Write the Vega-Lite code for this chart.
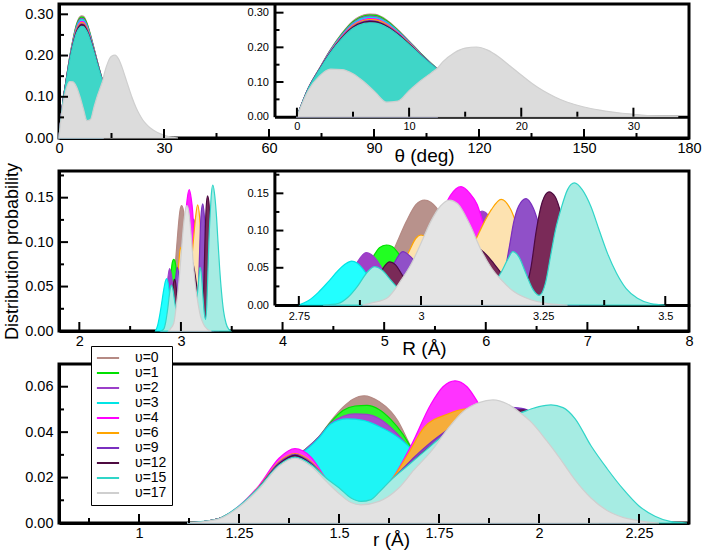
{
"$schema": "https://vega.github.io/schema/vega-lite/v6.json",
"padding": {"left": 1, "top": 2, "right": 5, "bottom": 2},
"bounds": "flush",
"spacing": 33,
"config": {
  "font": "Liberation Sans",
  "view": {"stroke": "black", "strokeWidth": 3},
  "axis": {"ticks": false, "tickSize": 0, "domainColor": "black", "domainWidth": 3, "labelColor": "black", "labelFont": "Liberation Sans", "labelFontSize": 14.5, "labelFlush": false, "labelOverlap": false, "grid": false, "zindex": 1, "titleFont": "Liberation Sans", "titleColor": "black", "titleFontWeight": "normal"}
},
"resolve": {"scale": {"fill": "independent", "stroke": "independent", "strokeDash": "independent"}},
"datasets": {
"p1": [
{"v":0,"x":0,"y":0},{"v":0,"x":1,"y":0.081},{"v":0,"x":2,"y":0.139},{"v":0,"x":3,"y":0.194},{"v":0,"x":4,"y":0.240},{"v":0,"x":5,"y":0.276},{"v":0,"x":6,"y":0.294},{"v":0,"x":6.5,"y":0.296},{"v":0,"x":7,"y":0.295},{"v":0,"x":8,"y":0.279},{"v":0,"x":9,"y":0.251},{"v":0,"x":10,"y":0.218},{"v":0,"x":11,"y":0.184},{"v":0,"x":12,"y":0.153},{"v":0,"x":12.5,"y":0.139},
{"v":1,"x":0,"y":0},{"v":1,"x":1,"y":0.081},{"v":1,"x":2,"y":0.138},{"v":1,"x":3,"y":0.193},{"v":1,"x":4,"y":0.238},{"v":1,"x":5,"y":0.274},{"v":1,"x":6,"y":0.291},{"v":1,"x":6.5,"y":0.293},{"v":1,"x":7,"y":0.292},{"v":1,"x":8,"y":0.277},{"v":1,"x":9,"y":0.249},{"v":1,"x":10,"y":0.217},{"v":1,"x":11,"y":0.184},{"v":1,"x":12,"y":0.153},{"v":1,"x":12.5,"y":0.139},
{"v":2,"x":0,"y":0},{"v":2,"x":1,"y":0.081},{"v":2,"x":2,"y":0.138},{"v":2,"x":3,"y":0.192},{"v":2,"x":4,"y":0.236},{"v":2,"x":5,"y":0.271},{"v":2,"x":6,"y":0.288},{"v":2,"x":6.5,"y":0.290},{"v":2,"x":7,"y":0.289},{"v":2,"x":8,"y":0.274},{"v":2,"x":9,"y":0.247},{"v":2,"x":10,"y":0.216},{"v":2,"x":11,"y":0.183},{"v":2,"x":12,"y":0.152},{"v":2,"x":12.5,"y":0.139},
{"v":3,"x":0,"y":0},{"v":3,"x":1,"y":0.081},{"v":3,"x":2,"y":0.137},{"v":3,"x":3,"y":0.191},{"v":3,"x":4,"y":0.235},{"v":3,"x":5,"y":0.269},{"v":3,"x":6,"y":0.285},{"v":3,"x":6.5,"y":0.287},{"v":3,"x":7,"y":0.286},{"v":3,"x":8,"y":0.272},{"v":3,"x":9,"y":0.246},{"v":3,"x":10,"y":0.214},{"v":3,"x":11,"y":0.182},{"v":3,"x":12,"y":0.152},{"v":3,"x":12.5,"y":0.138},
{"v":4,"x":0,"y":0},{"v":4,"x":1,"y":0.081},{"v":4,"x":2,"y":0.137},{"v":4,"x":3,"y":0.189},{"v":4,"x":4,"y":0.232},{"v":4,"x":5,"y":0.265},{"v":4,"x":6,"y":0.281},{"v":4,"x":6.5,"y":0.283},{"v":4,"x":7,"y":0.282},{"v":4,"x":8,"y":0.268},{"v":4,"x":9,"y":0.243},{"v":4,"x":10,"y":0.213},{"v":4,"x":11,"y":0.181},{"v":4,"x":12,"y":0.151},{"v":4,"x":12.5,"y":0.138},
{"v":6,"x":0,"y":0},{"v":6,"x":1,"y":0.080},{"v":6,"x":2,"y":0.136},{"v":6,"x":3,"y":0.188},{"v":6,"x":4,"y":0.230},{"v":6,"x":5,"y":0.263},{"v":6,"x":6,"y":0.278},{"v":6,"x":6.5,"y":0.280},{"v":6,"x":7,"y":0.279},{"v":6,"x":8,"y":0.266},{"v":6,"x":9,"y":0.241},{"v":6,"x":10,"y":0.212},{"v":6,"x":11,"y":0.180},{"v":6,"x":12,"y":0.151},{"v":6,"x":12.5,"y":0.138},
{"v":9,"x":0,"y":0},{"v":9,"x":1,"y":0.080},{"v":9,"x":2,"y":0.136},{"v":9,"x":3,"y":0.187},{"v":9,"x":4,"y":0.229},{"v":9,"x":5,"y":0.260},{"v":9,"x":6,"y":0.275},{"v":9,"x":6.5,"y":0.277},{"v":9,"x":7,"y":0.276},{"v":9,"x":8,"y":0.263},{"v":9,"x":9,"y":0.240},{"v":9,"x":10,"y":0.210},{"v":9,"x":11,"y":0.180},{"v":9,"x":12,"y":0.151},{"v":9,"x":12.5,"y":0.137},
{"v":12,"x":0,"y":0},{"v":12,"x":1,"y":0.080},{"v":12,"x":2,"y":0.136},{"v":12,"x":3,"y":0.186},{"v":12,"x":4,"y":0.227},{"v":12,"x":5,"y":0.258},{"v":12,"x":6,"y":0.273},{"v":12,"x":6.5,"y":0.275},{"v":12,"x":7,"y":0.274},{"v":12,"x":8,"y":0.261},{"v":12,"x":9,"y":0.238},{"v":12,"x":10,"y":0.210},{"v":12,"x":11,"y":0.179},{"v":12,"x":12,"y":0.150},{"v":12,"x":12.5,"y":0.137},
{"v":15,"x":0,"y":0},{"v":15,"x":1,"y":0.080},{"v":15,"x":2,"y":0.135},{"v":15,"x":3,"y":0.185},{"v":15,"x":4,"y":0.225},{"v":15,"x":5,"y":0.255},{"v":15,"x":6,"y":0.269},{"v":15,"x":6.5,"y":0.271},{"v":15,"x":7,"y":0.270},{"v":15,"x":8,"y":0.258},{"v":15,"x":9,"y":0.236},{"v":15,"x":10,"y":0.208},{"v":15,"x":11,"y":0.178},{"v":15,"x":12,"y":0.150},{"v":15,"x":12.5,"y":0.137},
{"v":17,"x":0,"y":0},{"v":17,"x":1,"y":0.075},{"v":17,"x":2,"y":0.117},{"v":17,"x":3,"y":0.137},{"v":17,"x":4,"y":0.136},{"v":17,"x":5,"y":0.124},{"v":17,"x":6,"y":0.100},{"v":17,"x":7,"y":0.070},{"v":17,"x":8,"y":0.042},{"v":17,"x":9,"y":0.045},{"v":17,"x":10,"y":0.075},{"v":17,"x":11,"y":0.103},{"v":17,"x":12,"y":0.127},{"v":17,"x":12.5,"y":0.139},{"v":17,"x":13,"y":0.158},{"v":17,"x":14,"y":0.184},{"v":17,"x":15,"y":0.198},{"v":17,"x":16,"y":0.201},{"v":17,"x":17,"y":0.192},{"v":17,"x":18,"y":0.172},{"v":17,"x":19,"y":0.146},{"v":17,"x":20,"y":0.120},{"v":17,"x":21,"y":0.095},{"v":17,"x":22,"y":0.074},{"v":17,"x":23,"y":0.057},{"v":17,"x":24,"y":0.043},{"v":17,"x":25,"y":0.033},{"v":17,"x":26,"y":0.025},{"v":17,"x":27,"y":0.019},{"v":17,"x":28,"y":0.014},{"v":17,"x":29,"y":0.010},{"v":17,"x":30,"y":0.007},{"v":17,"x":31,"y":0.004},{"v":17,"x":32,"y":0.002},{"v":17,"x":33,"y":0.001},{"v":17,"x":34,"y":0}
],
"p2": [
{"v":0,"x":2.8,"y":0},{"v":0,"x":2.85,"y":0.0025},{"v":0,"x":2.88,"y":0.0105},{"v":0,"x":2.91,"y":0.03},{"v":0,"x":2.93,"y":0.053},{"v":0,"x":2.95,"y":0.0826},{"v":0,"x":2.97,"y":0.112},{"v":0,"x":2.99,"y":0.135},{"v":0,"x":3.007,"y":0.141},{"v":0,"x":3.02,"y":0.138},{"v":0,"x":3.04,"y":0.122},{"v":0,"x":3.06,"y":0.089},{"v":0,"x":3.09,"y":0.05},{"v":0,"x":3.12,"y":0.022},{"v":0,"x":3.15,"y":0.008},{"v":0,"x":3.18,"y":0.002},{"v":0,"x":3.2,"y":0},
{"v":1,"x":2.84,"y":0},{"v":1,"x":2.86,"y":0.01},{"v":1,"x":2.88,"y":0.035},{"v":1,"x":2.895,"y":0.055},{"v":1,"x":2.905,"y":0.068},{"v":1,"x":2.915,"y":0.077},{"v":1,"x":2.929,"y":0.0806},{"v":1,"x":2.94,"y":0.079},{"v":1,"x":2.953,"y":0.07},{"v":1,"x":2.97,"y":0.05},{"v":1,"x":2.99,"y":0.03},{"v":1,"x":3.02,"y":0.035},{"v":1,"x":3.06,"y":0.07},{"v":1,"x":3.1,"y":0.09},{"v":1,"x":3.14,"y":0.07},{"v":1,"x":3.18,"y":0.03},{"v":1,"x":3.22,"y":0.005},{"v":1,"x":3.25,"y":0},
{"v":2,"x":2.8,"y":0},{"v":2,"x":2.83,"y":0.01},{"v":2,"x":2.85,"y":0.03},{"v":2,"x":2.87,"y":0.058},{"v":2,"x":2.888,"y":0.0703},{"v":2,"x":2.905,"y":0.064},{"v":2,"x":2.925,"y":0.045},{"v":2,"x":2.95,"y":0.03},{"v":2,"x":2.98,"y":0.035},{"v":2,"x":3.02,"y":0.06},{"v":2,"x":3.06,"y":0.095},{"v":2,"x":3.09,"y":0.115},{"v":2,"x":3.11,"y":0.12},{"v":2,"x":3.125,"y":0.126},{"v":2,"x":3.14,"y":0.118},{"v":2,"x":3.155,"y":0.095},{"v":2,"x":3.175,"y":0.055},{"v":2,"x":3.2,"y":0.02},{"v":2,"x":3.23,"y":0},
{"v":3,"x":2.75,"y":0},{"v":3,"x":2.77,"y":0.006},{"v":3,"x":2.79,"y":0.017},{"v":3,"x":2.81,"y":0.031},{"v":3,"x":2.83,"y":0.046},{"v":3,"x":2.845,"y":0.055},{"v":3,"x":2.858,"y":0.059},{"v":3,"x":2.87,"y":0.056},{"v":3,"x":2.885,"y":0.045},{"v":3,"x":2.9,"y":0.03},{"v":3,"x":2.92,"y":0.015},{"v":3,"x":2.94,"y":0.006},{"v":3,"x":2.97,"y":0},
{"v":4,"x":2.92,"y":0},{"v":4,"x":2.95,"y":0.009},{"v":4,"x":2.98,"y":0.029},{"v":4,"x":3.0,"y":0.052},{"v":4,"x":3.02,"y":0.084},{"v":4,"x":3.04,"y":0.119},{"v":4,"x":3.06,"y":0.147},{"v":4,"x":3.082,"y":0.159},{"v":4,"x":3.1,"y":0.15},{"v":4,"x":3.115,"y":0.135},{"v":4,"x":3.13,"y":0.104},{"v":4,"x":3.145,"y":0.076},{"v":4,"x":3.17,"y":0.044},{"v":4,"x":3.2,"y":0.016},{"v":4,"x":3.23,"y":0.004},{"v":4,"x":3.26,"y":0},
{"v":6,"x":2.9,"y":0},{"v":6,"x":2.93,"y":0.01},{"v":6,"x":2.95,"y":0.03},{"v":6,"x":2.96,"y":0.05},{"v":6,"x":2.977,"y":0.074},{"v":6,"x":2.99,"y":0.09},{"v":6,"x":3.0,"y":0.094},{"v":6,"x":3.012,"y":0.09},{"v":6,"x":3.03,"y":0.07},{"v":6,"x":3.05,"y":0.05},{"v":6,"x":3.07,"y":0.045},{"v":6,"x":3.09,"y":0.06},{"v":6,"x":3.11,"y":0.085},{"v":6,"x":3.13,"y":0.112},{"v":6,"x":3.144,"y":0.128},{"v":6,"x":3.164,"y":0.142},{"v":6,"x":3.184,"y":0.128},{"v":6,"x":3.2,"y":0.1},{"v":6,"x":3.22,"y":0.06},{"v":6,"x":3.24,"y":0.03},{"v":6,"x":3.27,"y":0.008},{"v":6,"x":3.3,"y":0},
{"v":9,"x":2.88,"y":0},{"v":9,"x":2.9,"y":0.008},{"v":9,"x":2.92,"y":0.025},{"v":9,"x":2.94,"y":0.05},{"v":9,"x":2.963,"y":0.0716},{"v":9,"x":2.977,"y":0.066},{"v":9,"x":2.99,"y":0.057},{"v":9,"x":3.01,"y":0.045},{"v":9,"x":3.04,"y":0.035},{"v":9,"x":3.08,"y":0.03},{"v":9,"x":3.12,"y":0.035},{"v":9,"x":3.145,"y":0.035},{"v":9,"x":3.16,"y":0.035},{"v":9,"x":3.17,"y":0.042},{"v":9,"x":3.18,"y":0.075},{"v":9,"x":3.19,"y":0.112},{"v":9,"x":3.2,"y":0.133},{"v":9,"x":3.215,"y":0.143},{"v":9,"x":3.23,"y":0.13},{"v":9,"x":3.245,"y":0.1},{"v":9,"x":3.26,"y":0.065},{"v":9,"x":3.28,"y":0.03},{"v":9,"x":3.3,"y":0.01},{"v":9,"x":3.32,"y":0},
{"v":12,"x":2.88,"y":0},{"v":12,"x":2.9,"y":0.015},{"v":12,"x":2.915,"y":0.04},{"v":12,"x":2.925,"y":0.052},{"v":12,"x":2.936,"y":0.058},{"v":12,"x":2.948,"y":0.054},{"v":12,"x":2.96,"y":0.042},{"v":12,"x":2.975,"y":0.028},{"v":12,"x":2.99,"y":0.02},{"v":12,"x":3.0,"y":0.02},{"v":12,"x":3.04,"y":0.045},{"v":12,"x":3.08,"y":0.075},{"v":12,"x":3.11,"y":0.078},{"v":12,"x":3.13,"y":0.07},{"v":12,"x":3.15,"y":0.055},{"v":12,"x":3.165,"y":0.042},{"v":12,"x":3.18,"y":0.025},{"v":12,"x":3.2,"y":0.012},{"v":12,"x":3.212,"y":0.02},{"v":12,"x":3.225,"y":0.05},{"v":12,"x":3.236,"y":0.1},{"v":12,"x":3.248,"y":0.138},{"v":12,"x":3.262,"y":0.152},{"v":12,"x":3.275,"y":0.145},{"v":12,"x":3.29,"y":0.115},{"v":12,"x":3.3,"y":0.09},{"v":12,"x":3.32,"y":0.045},{"v":12,"x":3.34,"y":0.015},{"v":12,"x":3.37,"y":0},
{"v":15,"x":2.8,"y":0},{"v":15,"x":2.83,"y":0.002},{"v":15,"x":2.85,"y":0.01},{"v":15,"x":2.87,"y":0.025},{"v":15,"x":2.89,"y":0.044},{"v":15,"x":2.905,"y":0.0515},{"v":15,"x":2.92,"y":0.047},{"v":15,"x":2.94,"y":0.032},{"v":15,"x":2.96,"y":0.018},{"v":15,"x":2.99,"y":0.008},{"v":15,"x":3.03,"y":0.005},{"v":15,"x":3.08,"y":0.008},{"v":15,"x":3.12,"y":0.015},{"v":15,"x":3.15,"y":0.03},{"v":15,"x":3.165,"y":0.045},{"v":15,"x":3.178,"y":0.062},{"v":15,"x":3.188,"y":0.0716},{"v":15,"x":3.2,"y":0.065},{"v":15,"x":3.215,"y":0.042},{"v":15,"x":3.23,"y":0.02},{"v":15,"x":3.242,"y":0.013},{"v":15,"x":3.255,"y":0.03},{"v":15,"x":3.265,"y":0.065},{"v":15,"x":3.275,"y":0.1},{"v":15,"x":3.287,"y":0.13},{"v":15,"x":3.3,"y":0.155},{"v":15,"x":3.314,"y":0.164},{"v":15,"x":3.33,"y":0.155},{"v":15,"x":3.348,"y":0.132},{"v":15,"x":3.365,"y":0.1},{"v":15,"x":3.382,"y":0.069},{"v":15,"x":3.4,"y":0.043},{"v":15,"x":3.42,"y":0.022},{"v":15,"x":3.443,"y":0.009},{"v":15,"x":3.47,"y":0.002},{"v":15,"x":3.5,"y":0},
{"v":17,"x":2.88,"y":0},{"v":17,"x":2.9,"y":0.003},{"v":17,"x":2.93,"y":0.009},{"v":17,"x":2.96,"y":0.034},{"v":17,"x":2.98,"y":0.055},{"v":17,"x":3.0,"y":0.083},{"v":17,"x":3.02,"y":0.112},{"v":17,"x":3.04,"y":0.133},{"v":17,"x":3.058,"y":0.141},{"v":17,"x":3.075,"y":0.136},{"v":17,"x":3.1,"y":0.108},{"v":17,"x":3.123,"y":0.074},{"v":17,"x":3.144,"y":0.05},{"v":17,"x":3.164,"y":0.034},{"v":17,"x":3.19,"y":0.018},{"v":17,"x":3.225,"y":0.007},{"v":17,"x":3.26,"y":0.002},{"v":17,"x":3.3,"y":0}
],
"p3": [
{"v":0,"x":1.12,"y":0},{"v":0,"x":1.2,"y":0.002},{"v":0,"x":1.25,"y":0.007},{"v":0,"x":1.3,"y":0.015},{"v":0,"x":1.35,"y":0.024},{"v":0,"x":1.39,"y":0.029},{"v":0,"x":1.42,"y":0.033},{"v":0,"x":1.45,"y":0.038},{"v":0,"x":1.48,"y":0.045},{"v":0,"x":1.51,"y":0.051},{"v":0,"x":1.535,"y":0.0545},{"v":0,"x":1.563,"y":0.056},{"v":0,"x":1.6,"y":0.0535},{"v":0,"x":1.63,"y":0.049},{"v":0,"x":1.647,"y":0.045},{"v":0,"x":1.672,"y":0.0363},{"v":0,"x":1.7,"y":0.026},{"v":0,"x":1.73,"y":0.016},{"v":0,"x":1.76,"y":0.008},{"v":0,"x":1.8,"y":0.002},{"v":0,"x":1.85,"y":0},
{"v":1,"x":1.12,"y":0},{"v":1,"x":1.2,"y":0.002},{"v":1,"x":1.25,"y":0.007},{"v":1,"x":1.3,"y":0.015},{"v":1,"x":1.35,"y":0.024},{"v":1,"x":1.39,"y":0.029},{"v":1,"x":1.42,"y":0.033},{"v":1,"x":1.45,"y":0.038},{"v":1,"x":1.48,"y":0.0445},{"v":1,"x":1.51,"y":0.0495},{"v":1,"x":1.54,"y":0.0515},{"v":1,"x":1.57,"y":0.0518},{"v":1,"x":1.6,"y":0.05},{"v":1,"x":1.63,"y":0.0455},{"v":1,"x":1.66,"y":0.039},{"v":1,"x":1.69,"y":0.03},{"v":1,"x":1.72,"y":0.02},{"v":1,"x":1.75,"y":0.011},{"v":1,"x":1.8,"y":0.003},{"v":1,"x":1.85,"y":0},
{"v":2,"x":1.12,"y":0},{"v":2,"x":1.2,"y":0.002},{"v":2,"x":1.25,"y":0.007},{"v":2,"x":1.3,"y":0.015},{"v":2,"x":1.35,"y":0.024},{"v":2,"x":1.39,"y":0.029},{"v":2,"x":1.42,"y":0.033},{"v":2,"x":1.45,"y":0.038},{"v":2,"x":1.48,"y":0.044},{"v":2,"x":1.51,"y":0.047},{"v":2,"x":1.54,"y":0.048},{"v":2,"x":1.57,"y":0.0478},{"v":2,"x":1.6,"y":0.046},{"v":2,"x":1.63,"y":0.042},{"v":2,"x":1.66,"y":0.0365},{"v":2,"x":1.69,"y":0.029},{"v":2,"x":1.72,"y":0.02},{"v":2,"x":1.75,"y":0.011},{"v":2,"x":1.8,"y":0.003},{"v":2,"x":1.85,"y":0},
{"v":3,"x":1.12,"y":0},{"v":3,"x":1.2,"y":0.002},{"v":3,"x":1.25,"y":0.007},{"v":3,"x":1.3,"y":0.015},{"v":3,"x":1.35,"y":0.024},{"v":3,"x":1.39,"y":0.029},{"v":3,"x":1.42,"y":0.0325},{"v":3,"x":1.45,"y":0.0375},{"v":3,"x":1.48,"y":0.0436},{"v":3,"x":1.52,"y":0.0458},{"v":3,"x":1.56,"y":0.0452},{"v":3,"x":1.6,"y":0.0425},{"v":3,"x":1.647,"y":0.0378},{"v":3,"x":1.676,"y":0.0334},{"v":3,"x":1.7,"y":0.028},{"v":3,"x":1.73,"y":0.02},{"v":3,"x":1.77,"y":0.01},{"v":3,"x":1.8,"y":0.005},{"v":3,"x":1.85,"y":0},
{"v":4,"x":1.12,"y":0},{"v":4,"x":1.2,"y":0.002},{"v":4,"x":1.25,"y":0.0075},{"v":4,"x":1.3,"y":0.0165},{"v":4,"x":1.35,"y":0.0285},{"v":4,"x":1.39,"y":0.0327},{"v":4,"x":1.43,"y":0.029},{"v":4,"x":1.47,"y":0.019},{"v":4,"x":1.5,"y":0.0145},{"v":4,"x":1.53,"y":0.01},{"v":4,"x":1.555,"y":0.0085},{"v":4,"x":1.58,"y":0.0095},{"v":4,"x":1.6,"y":0.013},{"v":4,"x":1.63,"y":0.0187},{"v":4,"x":1.68,"y":0.034},{"v":4,"x":1.73,"y":0.0524},{"v":4,"x":1.76,"y":0.06},{"v":4,"x":1.79,"y":0.0626},{"v":4,"x":1.82,"y":0.06},{"v":4,"x":1.847,"y":0.0531},{"v":4,"x":1.88,"y":0.042},{"v":4,"x":1.92,"y":0.028},{"v":4,"x":1.96,"y":0.016},{"v":4,"x":2.0,"y":0.008},{"v":4,"x":2.05,"y":0.002},{"v":4,"x":2.1,"y":0},
{"v":6,"x":1.12,"y":0},{"v":6,"x":1.2,"y":0.002},{"v":6,"x":1.25,"y":0.0073},{"v":6,"x":1.3,"y":0.016},{"v":6,"x":1.35,"y":0.027},{"v":6,"x":1.39,"y":0.0305},{"v":6,"x":1.43,"y":0.027},{"v":6,"x":1.47,"y":0.0192},{"v":6,"x":1.5,"y":0.0145},{"v":6,"x":1.53,"y":0.01},{"v":6,"x":1.555,"y":0.0086},{"v":6,"x":1.58,"y":0.0096},{"v":6,"x":1.6,"y":0.013},{"v":6,"x":1.63,"y":0.0187},{"v":6,"x":1.67,"y":0.0295},{"v":6,"x":1.713,"y":0.0421},{"v":6,"x":1.772,"y":0.048},{"v":6,"x":1.813,"y":0.0502},{"v":6,"x":1.85,"y":0.0505},{"v":6,"x":1.89,"y":0.047},{"v":6,"x":1.93,"y":0.038},{"v":6,"x":1.97,"y":0.026},{"v":6,"x":2.01,"y":0.015},{"v":6,"x":2.05,"y":0.007},{"v":6,"x":2.1,"y":0.002},{"v":6,"x":2.15,"y":0},
{"v":9,"x":1.12,"y":0},{"v":9,"x":1.2,"y":0.002},{"v":9,"x":1.25,"y":0.0072},{"v":9,"x":1.3,"y":0.0158},{"v":9,"x":1.35,"y":0.0265},{"v":9,"x":1.39,"y":0.0302},{"v":9,"x":1.43,"y":0.0265},{"v":9,"x":1.47,"y":0.019},{"v":9,"x":1.5,"y":0.0145},{"v":9,"x":1.53,"y":0.01},{"v":9,"x":1.555,"y":0.0086},{"v":9,"x":1.58,"y":0.0096},{"v":9,"x":1.6,"y":0.013},{"v":9,"x":1.63,"y":0.0187},{"v":9,"x":1.66,"y":0.024},{"v":9,"x":1.688,"y":0.029},{"v":9,"x":1.73,"y":0.0356},{"v":9,"x":1.763,"y":0.04},{"v":9,"x":1.8,"y":0.0445},{"v":9,"x":1.85,"y":0.049},{"v":9,"x":1.9,"y":0.0512},{"v":9,"x":1.94,"y":0.0508},{"v":9,"x":1.965,"y":0.0502},{"v":9,"x":1.99,"y":0.047},{"v":9,"x":2.02,"y":0.04},{"v":9,"x":2.05,"y":0.031},{"v":9,"x":2.09,"y":0.02},{"v":9,"x":2.13,"y":0.011},{"v":9,"x":2.18,"y":0.004},{"v":9,"x":2.23,"y":0.001},{"v":9,"x":2.27,"y":0},
{"v":12,"x":1.12,"y":0},{"v":12,"x":1.2,"y":0.002},{"v":12,"x":1.25,"y":0.0071},{"v":12,"x":1.3,"y":0.0156},{"v":12,"x":1.35,"y":0.026},{"v":12,"x":1.39,"y":0.0298},{"v":12,"x":1.43,"y":0.026},{"v":12,"x":1.47,"y":0.019},{"v":12,"x":1.5,"y":0.0145},{"v":12,"x":1.53,"y":0.01},{"v":12,"x":1.555,"y":0.0086},{"v":12,"x":1.58,"y":0.0096},{"v":12,"x":1.6,"y":0.013},{"v":12,"x":1.63,"y":0.0185},{"v":12,"x":1.66,"y":0.0225},{"v":12,"x":1.688,"y":0.0275},{"v":12,"x":1.73,"y":0.034},{"v":12,"x":1.77,"y":0.039},{"v":12,"x":1.82,"y":0.044},{"v":12,"x":1.87,"y":0.0475},{"v":12,"x":1.92,"y":0.0495},{"v":12,"x":1.96,"y":0.0498},{"v":12,"x":2.0,"y":0.047},{"v":12,"x":2.04,"y":0.04},{"v":12,"x":2.08,"y":0.029},{"v":12,"x":2.12,"y":0.018},{"v":12,"x":2.17,"y":0.008},{"v":12,"x":2.22,"y":0.002},{"v":12,"x":2.27,"y":0},
{"v":15,"x":1.12,"y":0},{"v":15,"x":1.15,"y":0.0005},{"v":15,"x":1.2,"y":0.002},{"v":15,"x":1.25,"y":0.0075},{"v":15,"x":1.3,"y":0.0157},{"v":15,"x":1.35,"y":0.0255},{"v":15,"x":1.39,"y":0.029},{"v":15,"x":1.43,"y":0.0258},{"v":15,"x":1.47,"y":0.0195},{"v":15,"x":1.5,"y":0.0155},{"v":15,"x":1.53,"y":0.011},{"v":15,"x":1.555,"y":0.0095},{"v":15,"x":1.58,"y":0.0103},{"v":15,"x":1.6,"y":0.0135},{"v":15,"x":1.63,"y":0.0189},{"v":15,"x":1.67,"y":0.025},{"v":15,"x":1.71,"y":0.031},{"v":15,"x":1.75,"y":0.037},{"v":15,"x":1.8,"y":0.043},{"v":15,"x":1.85,"y":0.0465},{"v":15,"x":1.9,"y":0.0482},{"v":15,"x":1.95,"y":0.0485},{"v":15,"x":1.98,"y":0.0502},{"v":15,"x":2.0,"y":0.0512},{"v":15,"x":2.03,"y":0.052},{"v":15,"x":2.06,"y":0.0508},{"v":15,"x":2.09,"y":0.046},{"v":15,"x":2.13,"y":0.034},{"v":15,"x":2.17,"y":0.024},{"v":15,"x":2.21,"y":0.015},{"v":15,"x":2.25,"y":0.0075},{"v":15,"x":2.29,"y":0.003},{"v":15,"x":2.33,"y":0.0006},{"v":15,"x":2.37,"y":0},
{"v":17,"x":1.12,"y":0},{"v":17,"x":1.15,"y":0.0004},{"v":17,"x":1.2,"y":0.0018},{"v":17,"x":1.25,"y":0.007},{"v":17,"x":1.3,"y":0.015},{"v":17,"x":1.35,"y":0.025},{"v":17,"x":1.39,"y":0.0285},{"v":17,"x":1.43,"y":0.025},{"v":17,"x":1.47,"y":0.018},{"v":17,"x":1.5,"y":0.013},{"v":17,"x":1.53,"y":0.009},{"v":17,"x":1.555,"y":0.008},{"v":17,"x":1.6,"y":0.0095},{"v":17,"x":1.65,"y":0.0155},{"v":17,"x":1.688,"y":0.0235},{"v":17,"x":1.73,"y":0.0315},{"v":17,"x":1.77,"y":0.041},{"v":17,"x":1.81,"y":0.049},{"v":17,"x":1.85,"y":0.053},{"v":17,"x":1.885,"y":0.0542},{"v":17,"x":1.92,"y":0.0525},{"v":17,"x":1.95,"y":0.049},{"v":17,"x":1.98,"y":0.0445},{"v":17,"x":2.02,"y":0.036},{"v":17,"x":2.05,"y":0.029},{"v":17,"x":2.09,"y":0.019},{"v":17,"x":2.13,"y":0.011},{"v":17,"x":2.17,"y":0.0055},{"v":17,"x":2.21,"y":0.0025},{"v":17,"x":2.25,"y":0.001},{"v":17,"x":2.3,"y":0}
]
},
"vconcat": [
{
 "width": 630, "height": 134,
 "resolve": {"scale": {"x": "independent", "y": "independent"}, "axis": {"x": "independent", "y": "independent"}},
 "layer": [
  {"data": {"name": "p1"}, "layer": [
   {
    "mark": {"type": "area", "interpolate": "monotone", "strokeWidth": 1.2},
    "encoding": {
     "x": {"field": "x", "type": "quantitative", "scale": {"domain": [0, 180], "nice": false, "zero": false},
       "axis": {"values": [0,30,60,90,120,150,180], "format": "d", "labelPadding": 3, "title": "θ (deg)", "titleX": 365, "titleY": 17, "titleBaseline": "middle", "titleAlign": "center", "titleFontSize": 19}},
     "y": {"field": "y", "type": "quantitative", "stack": null, "scale": {"domain": [0, 0.325], "nice": false},
       "axis": {"values": [0,0.1,0.2,0.3], "format": ".2f", "labelPadding": 6, "title": null}},
     "fill": {"field": "v", "type": "nominal", "scale": {"domain": [0,1,2,3,4,6,9,12,15,17], "range": ["#b8928c","#33ff33","#a040c8","#22f0f0","#ff33ff","#ffb340","#8a40c0","#6a1450","#3fd6c8","#dcdcdc"]}, "legend": null},
     "stroke": {"field": "v", "type": "nominal", "scale": {"domain": [0,1,2,3,4,6,9,12,15,17], "range": ["#b58a84","#00e000","#9b3fc9","#00e5e5","#ff00ff","#ffa500","#7a2fbf","#4d0a40","#30d5c8","#cfcfcf"]}, "legend": null},
     "strokeDash": {"field": "v", "type": "nominal", "scale": {"domain": [0,1,2,3,4,6,9,12,15,17], "range": [[3,1.5],[1,0],[3,1.5],[3,1.5],[3,1.5],[1,0],[1,0],[1,0],[1,0],[3,1.5]]}, "legend": null}
    }
   },
   {"data": {"values": [{"x":30},{"x":60},{"x":90},{"x":120},{"x":150}]}, "mark": {"type": "tick", "orient": "vertical", "size": 9, "thickness": 2, "yOffset": -4.5, "color": "black", "opacity": 1}, "encoding": {"x": {"field": "x", "type": "quantitative"}, "y": {"datum": 0, "type": "quantitative"}}},
   {"data": {"values": [{"x":15},{"x":45},{"x":75},{"x":105},{"x":135},{"x":165}]}, "mark": {"type": "tick", "orient": "vertical", "size": 5, "thickness": 2, "yOffset": -2.5, "color": "black", "opacity": 1}, "encoding": {"x": {"field": "x", "type": "quantitative"}, "y": {"datum": 0, "type": "quantitative"}}},
   {"data": {"values": [{"y":0.1},{"y":0.2},{"y":0.3}]}, "mark": {"type": "tick", "orient": "horizontal", "size": 9, "thickness": 2, "xOffset": 4.5, "color": "black", "opacity": 1}, "encoding": {"y": {"field": "y", "type": "quantitative"}, "x": {"datum": 0, "type": "quantitative"}}},
   {"data": {"values": [{"y":0.05},{"y":0.15},{"y":0.25}]}, "mark": {"type": "tick", "orient": "horizontal", "size": 5, "thickness": 2, "xOffset": 2.5, "color": "black", "opacity": 1}, "encoding": {"y": {"field": "y", "type": "quantitative"}, "x": {"datum": 0, "type": "quantitative"}}}
  ]},
  {"data": {"name": "p1"}, "layer": [
   {
    "mark": {"type": "area", "interpolate": "monotone", "strokeWidth": 1.2},
    "encoding": {
     "x": {"field": "x", "type": "quantitative", "scale": {"domain": [-2, 35], "range": [215.5, 630.5], "nice": false, "zero": false},
       "axis": {"orient": "bottom", "offset": -21.3, "values": [0,10,20,30], "format": "d", "labelPadding": 4, "labelFontSize": 11, "title": null}},
     "y": {"field": "y", "type": "quantitative", "stack": null, "scale": {"domain": [0, 0.325], "range": [112.7, 0], "nice": false},
       "axis": {"orient": "left", "offset": -215.5, "values": [0,0.1,0.2,0.3], "format": ".2f", "labelPadding": 6, "labelFontSize": 11, "title": null}},
     "fill": {"field": "v", "type": "nominal", "legend": null},
     "stroke": {"field": "v", "type": "nominal", "legend": null},
     "strokeDash": {"field": "v", "type": "nominal", "legend": null}
    }
   },
   {"data": {"values": [{"x":0},{"x":10},{"x":20},{"x":30}]}, "mark": {"type": "tick", "orient": "vertical", "size": 9, "thickness": 2, "yOffset": -4.5, "color": "black", "opacity": 1}, "encoding": {"x": {"field": "x", "type": "quantitative"}, "y": {"datum": 0, "type": "quantitative"}}},
   {"data": {"values": [{"x":5},{"x":15},{"x":25}]}, "mark": {"type": "tick", "orient": "vertical", "size": 5, "thickness": 2, "yOffset": -2.5, "color": "black", "opacity": 1}, "encoding": {"x": {"field": "x", "type": "quantitative"}, "y": {"datum": 0, "type": "quantitative"}}},
   {"data": {"values": [{"y":0.1},{"y":0.2},{"y":0.3}]}, "mark": {"type": "tick", "orient": "horizontal", "size": 9, "thickness": 2, "xOffset": 4.5, "color": "black", "opacity": 1}, "encoding": {"y": {"field": "y", "type": "quantitative"}, "x": {"datum": -2, "type": "quantitative"}}},
   {"data": {"values": [{"y":0.05},{"y":0.15},{"y":0.25}]}, "mark": {"type": "tick", "orient": "horizontal", "size": 5, "thickness": 2, "xOffset": 2.5, "color": "black", "opacity": 1}, "encoding": {"y": {"field": "y", "type": "quantitative"}, "x": {"datum": -2, "type": "quantitative"}}}
  ]}
 ]
},
{
 "width": 630, "height": 160,
 "resolve": {"scale": {"x": "independent", "y": "independent"}, "axis": {"x": "independent", "y": "independent"}},
 "layer": [
  {"data": {"name": "p2"}, "layer": [
   {
    "mark": {"type": "area", "interpolate": "monotone", "strokeWidth": 1.2},
    "encoding": {
     "x": {"field": "x", "type": "quantitative", "scale": {"domain": [1.8, 8], "nice": false, "zero": false},
       "axis": {"values": [2,3,4,5,6,7,8], "format": ".4~g", "labelPadding": 3, "title": "R (Å)", "titleX": 365, "titleY": 17, "titleBaseline": "middle", "titleAlign": "center", "titleFontSize": 19}},
     "y": {"field": "y", "type": "quantitative", "stack": null, "scale": {"domain": [0, 0.18], "nice": false},
       "axis": {"values": [0,0.05,0.1,0.15], "format": ".2f", "labelPadding": 6, "title": "Distribution probability", "titleFontSize": 18, "titleX": -42, "titleY": 80, "titleAngle": 270, "titleBaseline": "alphabetic", "titleAlign": "center"}},
     "fill": {"field": "v", "type": "nominal", "scale": {"domain": [0,1,2,3,4,6,9,12,15,17], "range": ["#b8928c","#22ff22","#a040c8","#22ffff","#ff22ff","#fde2b0","#9050c8","#7a2a58","#a6ece3","#e4e4e4"]}, "legend": null},
     "stroke": {"field": "v", "type": "nominal", "scale": {"domain": [0,1,2,3,4,6,9,12,15,17], "range": ["#b58a84","#00e000","#9b3fc9","#00e5e5","#ff00ff","#ffa500","#7a2fbf","#4d0a40","#30d5c8","#cfcfcf"]}, "legend": null},
     "strokeDash": {"field": "v", "type": "nominal", "scale": {"domain": [0,1,2,3,4,6,9,12,15,17], "range": [[3,1.5],[1,0],[3,1.5],[3,1.5],[3,1.5],[1,0],[1,0],[1,0],[1,0],[3,1.5]]}, "legend": null}
    }
   },
   {"data": {"values": [{"x":2},{"x":3},{"x":4},{"x":5},{"x":6},{"x":7}]}, "mark": {"type": "tick", "orient": "vertical", "size": 9, "thickness": 2, "yOffset": -4.5, "color": "black", "opacity": 1}, "encoding": {"x": {"field": "x", "type": "quantitative"}, "y": {"datum": 0, "type": "quantitative"}}},
   {"data": {"values": [{"x":2.5},{"x":3.5},{"x":4.5},{"x":5.5},{"x":6.5},{"x":7.5}]}, "mark": {"type": "tick", "orient": "vertical", "size": 5, "thickness": 2, "yOffset": -2.5, "color": "black", "opacity": 1}, "encoding": {"x": {"field": "x", "type": "quantitative"}, "y": {"datum": 0, "type": "quantitative"}}},
   {"data": {"values": [{"y":0.05},{"y":0.1},{"y":0.15}]}, "mark": {"type": "tick", "orient": "horizontal", "size": 9, "thickness": 2, "xOffset": 4.5, "color": "black", "opacity": 1}, "encoding": {"y": {"field": "y", "type": "quantitative"}, "x": {"datum": 1.8, "type": "quantitative"}}},
   {"data": {"values": [{"y":0.025},{"y":0.075},{"y":0.125},{"y":0.175}]}, "mark": {"type": "tick", "orient": "horizontal", "size": 5, "thickness": 2, "xOffset": 2.5, "color": "black", "opacity": 1}, "encoding": {"y": {"field": "y", "type": "quantitative"}, "x": {"datum": 1.8, "type": "quantitative"}}}
  ]},
  {"data": {"name": "p2"}, "layer": [
   {
    "mark": {"type": "area", "interpolate": "monotone", "strokeWidth": 1.2},
    "encoding": {
     "x": {"field": "x", "type": "quantitative", "scale": {"domain": [2.7, 3.55], "range": [215.4, 630.7], "nice": false, "zero": false},
       "axis": {"orient": "bottom", "offset": -26, "values": [2.75,3,3.25,3.5], "format": ".4~g", "labelPadding": 5, "labelFontSize": 11, "title": null}},
     "y": {"field": "y", "type": "quantitative", "stack": null, "scale": {"domain": [0, 0.18], "range": [134, 0], "nice": false},
       "axis": {"orient": "left", "offset": -215.4, "values": [0,0.05,0.1,0.15], "format": ".2f", "labelPadding": 6, "labelFontSize": 11, "title": null}},
     "fill": {"field": "v", "type": "nominal", "legend": null},
     "stroke": {"field": "v", "type": "nominal", "legend": null},
     "strokeDash": {"field": "v", "type": "nominal", "legend": null}
    }
   },
   {"data": {"values": [{"x":2.75},{"x":3},{"x":3.25},{"x":3.5}]}, "mark": {"type": "tick", "orient": "vertical", "size": 9, "thickness": 2, "yOffset": -4.5, "color": "black", "opacity": 1}, "encoding": {"x": {"field": "x", "type": "quantitative"}, "y": {"datum": 0, "type": "quantitative"}}},
   {"data": {"values": [{"x":2.875},{"x":3.125},{"x":3.375}]}, "mark": {"type": "tick", "orient": "vertical", "size": 5, "thickness": 2, "yOffset": -2.5, "color": "black", "opacity": 1}, "encoding": {"x": {"field": "x", "type": "quantitative"}, "y": {"datum": 0, "type": "quantitative"}}},
   {"data": {"values": [{"y":0.05},{"y":0.1},{"y":0.15}]}, "mark": {"type": "tick", "orient": "horizontal", "size": 9, "thickness": 2, "xOffset": 4.5, "color": "black", "opacity": 1}, "encoding": {"y": {"field": "y", "type": "quantitative"}, "x": {"datum": 2.7, "type": "quantitative"}}},
   {"data": {"values": [{"y":0.025},{"y":0.075},{"y":0.125},{"y":0.175}]}, "mark": {"type": "tick", "orient": "horizontal", "size": 5, "thickness": 2, "xOffset": 2.5, "color": "black", "opacity": 1}, "encoding": {"y": {"field": "y", "type": "quantitative"}, "x": {"datum": 2.7, "type": "quantitative"}}}
  ]}
 ]
},
{
 "width": 630, "height": 159,
 "data": {"name": "p3"},
 "layer": [
  {
   "mark": {"type": "area", "interpolate": "monotone", "strokeWidth": 1.2},
   "encoding": {
    "x": {"field": "x", "type": "quantitative", "scale": {"domain": [0.8, 2.375], "nice": false, "zero": false},
      "axis": {"values": [1,1.25,1.5,1.75,2,2.25], "format": ".4~g", "labelPadding": 3, "title": "r (Å)", "titleX": 332, "titleY": 16, "titleBaseline": "middle", "titleAlign": "center", "titleFontSize": 19}},
    "y": {"field": "y", "type": "quantitative", "stack": null, "scale": {"domain": [0, 0.07], "nice": false},
      "axis": {"values": [0,0.02,0.04,0.06], "format": ".2f", "labelPadding": 6, "title": null}},
    "fill": {"field": "v", "type": "nominal", "scale": {"domain": [0,1,2,3,4,6,9,12,15,17], "range": ["#b8928c","#2cf52c","#a84ad0","#1ef5f5","#ff33ff","#f6ad3a","#8a40c0","#6a1450","#a6ece3","#e2e2e2"]},
      "legend": {"orient": "none", "legendX": 32, "legendY": -18, "title": null, "fillColor": "white", "strokeColor": "black", "padding": 5, "labelFontSize": 14, "labelColor": "black", "symbolType": "M-1.85,0H1.85", "symbolSize": 144, "symbolStrokeWidth": 2, "symbolOffset": 5, "rowPadding": 1, "labelOffset": 20, "labelExpr": "'υ=' + datum.label"}},
    "stroke": {"field": "v", "type": "nominal", "scale": {"domain": [0,1,2,3,4,6,9,12,15,17], "range": ["#b58a84","#00e000","#9b3fc9","#00e5e5","#ff00ff","#ffa500","#7a2fbf","#4d0a40","#30d5c8","#cfcfcf"]},
      "legend": {"orient": "none", "legendX": 32, "legendY": -18, "title": null, "fillColor": "white", "strokeColor": "black", "padding": 5, "labelFontSize": 14, "labelColor": "black", "symbolType": "M-1.85,0H1.85", "symbolSize": 144, "symbolStrokeWidth": 2, "symbolOffset": 5, "rowPadding": 1, "labelOffset": 20, "labelExpr": "'υ=' + datum.label"}},
    "strokeDash": {"field": "v", "type": "nominal", "scale": {"domain": [0,1,2,3,4,6,9,12,15,17], "range": [[3,1.5],[1,0],[3,1.5],[3,1.5],[3,1.5],[1,0],[1,0],[1,0],[1,0],[3,1.5]]},
      "legend": {"orient": "none", "legendX": 32, "legendY": -18, "title": null, "fillColor": "white", "strokeColor": "black", "padding": 5, "labelFontSize": 14, "labelColor": "black", "symbolType": "M-1.85,0H1.85", "symbolSize": 144, "symbolStrokeWidth": 2, "symbolOffset": 5, "rowPadding": 1, "labelOffset": 20, "labelExpr": "'υ=' + datum.label"}}
   }
  },
  {"data": {"values": [{"x":1},{"x":1.25},{"x":1.5},{"x":1.75},{"x":2},{"x":2.25}]}, "mark": {"type": "tick", "orient": "vertical", "size": 9, "thickness": 2, "yOffset": -4.5, "color": "black", "opacity": 1}, "encoding": {"x": {"field": "x", "type": "quantitative"}, "y": {"datum": 0, "type": "quantitative"}}},
  {"data": {"values": [{"x":0.875},{"x":1.125},{"x":1.375},{"x":1.625},{"x":1.875},{"x":2.125}]}, "mark": {"type": "tick", "orient": "vertical", "size": 5, "thickness": 2, "yOffset": -2.5, "color": "black", "opacity": 1}, "encoding": {"x": {"field": "x", "type": "quantitative"}, "y": {"datum": 0, "type": "quantitative"}}},
  {"data": {"values": [{"y":0.02},{"y":0.04},{"y":0.06}]}, "mark": {"type": "tick", "orient": "horizontal", "size": 9, "thickness": 2, "xOffset": 4.5, "color": "black", "opacity": 1}, "encoding": {"y": {"field": "y", "type": "quantitative"}, "x": {"datum": 0.8, "type": "quantitative"}}},
  {"data": {"values": [{"y":0.01},{"y":0.03},{"y":0.05}]}, "mark": {"type": "tick", "orient": "horizontal", "size": 5, "thickness": 2, "xOffset": 2.5, "color": "black", "opacity": 1}, "encoding": {"y": {"field": "y", "type": "quantitative"}, "x": {"datum": 0.8, "type": "quantitative"}}}
 ]
}
]
}
